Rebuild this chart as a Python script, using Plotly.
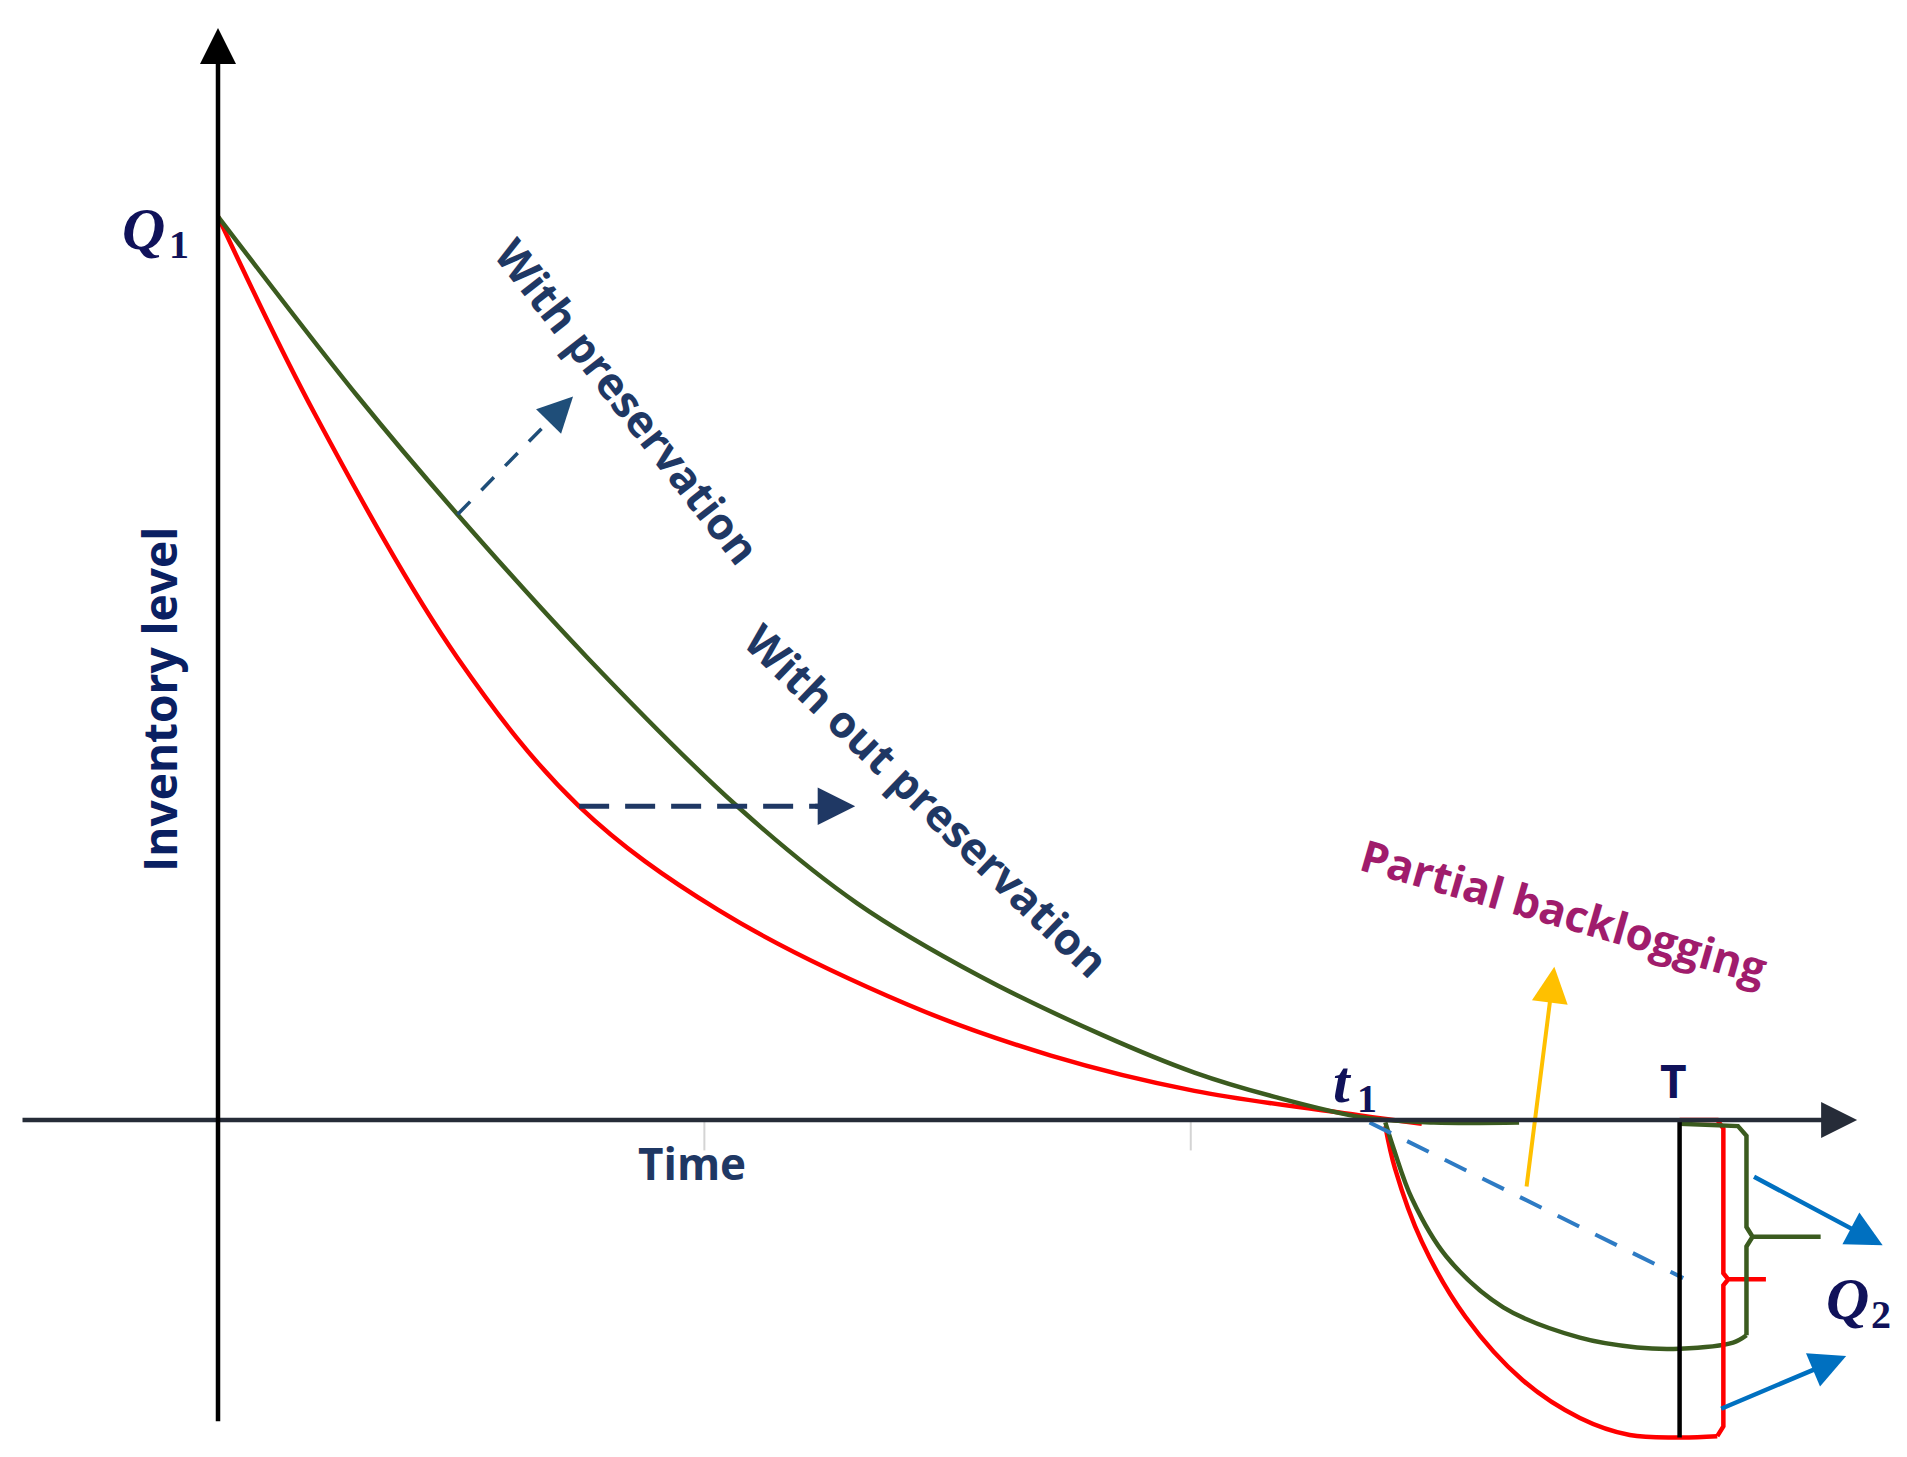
import plotly.graph_objects as go

# inventory level with preservation (green) and without preservation (red)
pres_t = [0, 1.15, 1.97, 3.04, 4.27, 5.26, 6.27, 7.27, 8.03, 8.69, 9.42, 10.0, 10.7]
pres_q = [7.43, 5.95, 4.98, 3.80, 2.58, 1.78, 1.18, 0.70, 0.39, 0.19, 0.02, -0.02, -0.02]
nopres_t = [0, 0.80, 1.97, 2.97, 4.11, 5.67, 6.85, 8.03, 9.38, 9.90]
nopres_q = [7.43, 5.80, 3.80, 2.58, 1.73, 0.95, 0.53, 0.24, 0.04, -0.03]

# shortage part (partial backlogging) after t1
pres_neg_t = [9.60, 9.67, 9.82, 10.10, 10.57, 11.20, 11.67, 12.02, 12.46, 12.57]
pres_neg_q = [-0.02, -0.24, -0.65, -1.12, -1.54, -1.79, -1.87, -1.88, -1.83, -1.77]
nopres_neg_t = [9.60, 9.68, 9.90, 10.26, 10.73, 11.20, 11.61, 12.02, 12.33]
nopres_neg_q = [-0.05, -0.40, -1.00, -1.62, -2.14, -2.45, -2.59, -2.61, -2.60]

# braces marking Q2
pres_brace_t = [12.57, 12.57, 12.62, 13.18, 12.62, 12.57, 12.57, 12.50, 12.02]
pres_brace_q = [-1.77, -1.04, -0.96, -0.96, -0.96, -0.88, -0.13, -0.05, -0.03]
nopres_brace_t = [12.33, 12.38, 12.38, 12.42, 12.73, 12.42, 12.38, 12.38, 12.33, 12.02]
nopres_brace_q = [-2.60, -2.52, -1.36, -1.31, -1.31, -1.31, -1.26, -0.07, 0.0, 0.0]

t1 = 9.42
T = 12.02
Q1 = 7.43
backlog_line_t = [9.47, 12.05]
backlog_line_q = [-0.02, -1.30]
T_line_q = [0, -2.61]
tick_t = [4, 8]

# axes and pointer arrows (tail_t, tail_q, head_t, head_q)
time_axis = (-1.62, 0, 13.48, 0)
level_axis = (0, -2.49, 0, 8.98)
arrow_with = (1.97, 4.98, 2.92, 5.95)
arrow_without = (2.97, 2.58, 5.24, 2.58)
arrow_backlog = (10.76, -0.56, 10.99, 1.26)
arrow_q2_top = (12.62, -0.46, 13.69, -1.03)
arrow_q2_bot = (12.35, -2.38, 13.39, -1.94)

GREEN = "#3b5b1f"
RED = "#ff0000"
NAVY = "#1f3864"
DARK = "#10125a"
BLUE = "#0070c0"

fig = go.Figure()


def head(seg, color, width, size, frac=0.0):
    x0, y0, x1, y1 = seg
    fig.add_annotation(x=x1, y=y1, ax=x0 + (x1 - x0) * frac, ay=y0 + (y1 - y0) * frac,
                       xref="x", yref="y", axref="x", ayref="y", text="",
                       showarrow=True, arrowhead=2, arrowsize=size, arrowwidth=width,
                       arrowcolor=color)


# small grey ticks under the time axis
for tt in tick_t:
    fig.add_trace(go.Scatter(x=[tt, tt], y=[0, -0.25], mode="lines",
                             line=dict(color="#d4d4d4", width=2)))

fig.add_trace(go.Scatter(x=nopres_t, y=nopres_q, mode="lines", line_shape="spline",
                         line=dict(color=RED, width=4.5)))
fig.add_trace(go.Scatter(x=pres_t, y=pres_q, mode="lines", line_shape="spline",
                         line=dict(color=GREEN, width=4.5)))
fig.add_trace(go.Scatter(x=nopres_neg_t, y=nopres_neg_q, mode="lines", line_shape="spline",
                         line=dict(color=RED, width=4.5)))
fig.add_trace(go.Scatter(x=pres_neg_t, y=pres_neg_q, mode="lines", line_shape="spline",
                         line=dict(color=GREEN, width=4.5)))
fig.add_trace(go.Scatter(x=nopres_brace_t, y=nopres_brace_q, mode="lines",
                         line=dict(color=RED, width=4.5)))
fig.add_trace(go.Scatter(x=pres_brace_t, y=pres_brace_q, mode="lines",
                         line=dict(color=GREEN, width=4.5)))
fig.add_trace(go.Scatter(x=backlog_line_t, y=backlog_line_q, mode="lines",
                         line=dict(color="#2e7bc4", width=4, dash="24px,18px")))
fig.add_trace(go.Scatter(x=[T, T], y=T_line_q, mode="lines",
                         line=dict(color="black", width=4.5)))

# dashed pointer shafts
for (x0, y0, x1, y1), col, w, d in [(arrow_with, "#1f4e79", 3.5, "18px,16px"),
                                    (arrow_without, NAVY, 5, "30px,16px")]:
    fig.add_trace(go.Scatter(x=[x0, x0 + (x1 - x0) * 0.93], y=[y0, y0 + (y1 - y0) * 0.93],
                             mode="lines", line=dict(color=col, width=w, dash=d)))

head(arrow_with, "#1f4e79", 3.5, 2.0, 0.85)
head(arrow_without, NAVY, 5, 1.5, 0.85)
head(arrow_backlog, "#ffc000", 4, 1.8)
head(arrow_q2_top, BLUE, 4.5, 1.6)
head(arrow_q2_bot, BLUE, 4.5, 1.6)
head(time_axis, "#262c38", 4.5, 1.6)
head(level_axis, "black", 4.5, 1.6)

sans = dict(family="Open Sans", size=44, color=NAVY, weight="bold")
letter = dict(family="Liberation Serif", size=60, color=DARK, weight="bold", style="italic")
digit = dict(family="Liberation Serif", size=40, color=DARK, weight="bold")

labels = [
    # math symbols: letter and subscript placed separately
    (-0.61, 7.33, "Q", letter, 0),
    (-0.32, 7.20, "1", digit, 0),
    (9.25, 0.31, "t", letter, 0),
    (9.45, 0.18, "1", digit, 0),
    (13.40, -1.47, "Q", letter, 0),
    (13.68, -1.60, "2", digit, 0),
    (11.97, 0.33, "T", dict(family="Open Sans", size=46, color=DARK, weight="bold"), 0),
    (3.90, -0.35, "Time", sans, 0),
    (-0.48, 3.46, "Inventory level", dict(sans, size=46, color="#0a2062"), -90),
    (3.37, 5.91, "With preservation", sans, 52),
    (5.83, 2.63, "With out preservation", sans, 44),
    (11.07, 1.72, "Partial backlogging", dict(sans, color="#a01c6c"), 16),
]
for x, y, txt, f, ang in labels:
    fig.add_annotation(x=x, y=y, xref="x", yref="y", text=txt, showarrow=False,
                       font=f, textangle=ang)

fig.update_layout(
    width=1907, height=1457,
    margin=dict(l=0, r=0, t=0, b=0),
    paper_bgcolor="white", plot_bgcolor="white",
    showlegend=False,
    xaxis=dict(range=[-1.727, 13.956], visible=False, fixedrange=True),
    yaxis=dict(range=[-2.837, 9.145], visible=False, fixedrange=True),
)

fig.write_html("out.html")
